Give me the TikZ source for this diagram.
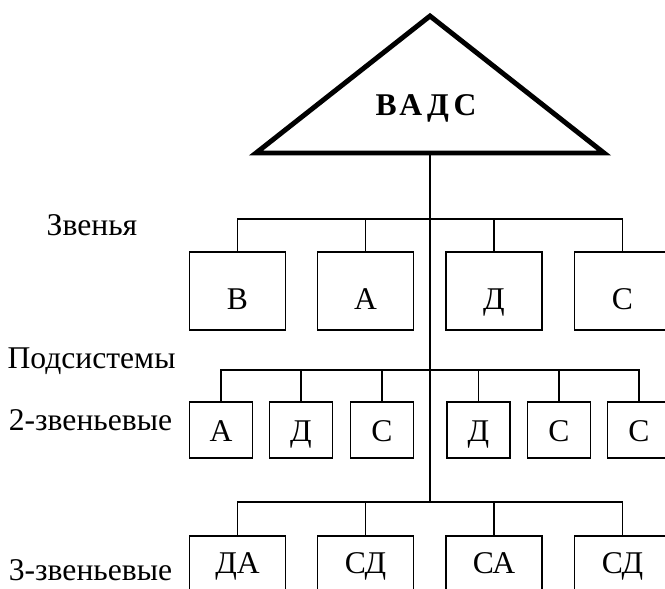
\documentclass[tikz,border=0pt]{standalone}
\usepackage{fontspec}
\setmainfont{Liberation Serif}
\begin{document}
\begin{tikzpicture}[x=0.02cm, y=-0.02cm,
  every node/.style={font=\fontsize{18}{22}\selectfont},
  zveno/.style={draw, line width=0.8pt, minimum width=1.92cm, minimum height=1.56cm, inner sep=0pt},
  podsis/.style={draw, line width=0.8pt, minimum width=1.26cm, minimum height=1.12cm, inner sep=0pt},
  bukva/.style={text height=0.66em, text depth=0pt, inner sep=0pt},
  shina/.style={line width=0.8pt}]
  \clip (0,0) rectangle (665,588);

  % треугольник
  \coordinate (verh) at (430,16);
  \coordinate (lev) at (256,153);
  \coordinate (prav) at (604,153);
  \coordinate (osn) at (430,153);
  \draw[line width=2.8pt, line join=miter] (verh) -- (lev) -- (prav) -- cycle;
  \node[anchor=base, font=\fontsize{18}{22}\selectfont\bfseries\addfontfeature{LetterSpace=15}] (vads) at (426,115) {ВАДС};

  % подписи слева
  \node[anchor=base] (zven) at (92,235) {Звенья};
  \node[anchor=base] (pods) at (91.5,368) {Подсистемы};
  \node[anchor=base] (dva) at (90.5,430) {2-звеньевые};
  \node[anchor=base] (tri) at (90.5,580) {3-звеньевые};

  % звенья
  \node[zveno, label={[bukva, yshift=-0.26cm]center:В}] (z1) at (237.5,291) {};
  \node[zveno, label={[bukva, yshift=-0.26cm]center:А}] (z2) at (365.5,291) {};
  \node[zveno, label={[bukva, yshift=-0.26cm]center:Д}] (z3) at (494,291) {};
  \node[zveno, label={[bukva, yshift=-0.26cm]center:С}] (z4) at (622.5,291) {};

  % 2-звеньевые
  \node[podsis, label={[bukva, yshift=-0.12cm]center:А}] (p1) at (221,430) {};
  \node[podsis, label={[bukva, yshift=-0.12cm]center:Д}] (p2) at (301,430) {};
  \node[podsis, label={[bukva, yshift=-0.12cm]center:С}] (p3) at (382,430) {};
  \node[podsis, label={[bukva, yshift=-0.12cm]center:Д}] (p4) at (478.5,430) {};
  \node[podsis, label={[bukva, yshift=-0.12cm]center:С}] (p5) at (559,430) {};
  \node[podsis, label={[bukva, yshift=-0.12cm]center:С}] (p6) at (639,430) {};

  % 3-звеньевые
  \node[zveno, label={[bukva, yshift=0.15cm]center:ДА}] (t1) at (237.5,575) {};
  \node[zveno, label={[bukva, yshift=0.15cm]center:СД}] (t2) at (365.5,575) {};
  \node[zveno, label={[bukva, yshift=0.15cm]center:СА}] (t3) at (494,575) {};
  \node[zveno, label={[bukva, yshift=0.15cm]center:СД}] (t4) at (622.5,575) {};

  % шины
  \coordinate (k1) at (430,219);
  \coordinate (k2) at (430,370);
  \coordinate (k3) at (430,502);
  \draw[line width=1.1pt] (osn) -- (k3);

  \draw[shina] (z1.north) |- (k1) -| (z4.north);
  \foreach \i in {2,3}
    \draw[shina] (z\i.north) -- (z\i.north |- k1);

  \draw[shina] (p1.north) |- (k2) -| (p6.north);
  \foreach \i in {2,...,5}
    \draw[shina] (p\i.north) -- (p\i.north |- k2);

  \draw[shina] (t1.north) |- (k3) -| (t4.north);
  \foreach \i in {2,3}
    \draw[shina] (t\i.north) -- (t\i.north |- k3);
\end{tikzpicture}
\end{document}
